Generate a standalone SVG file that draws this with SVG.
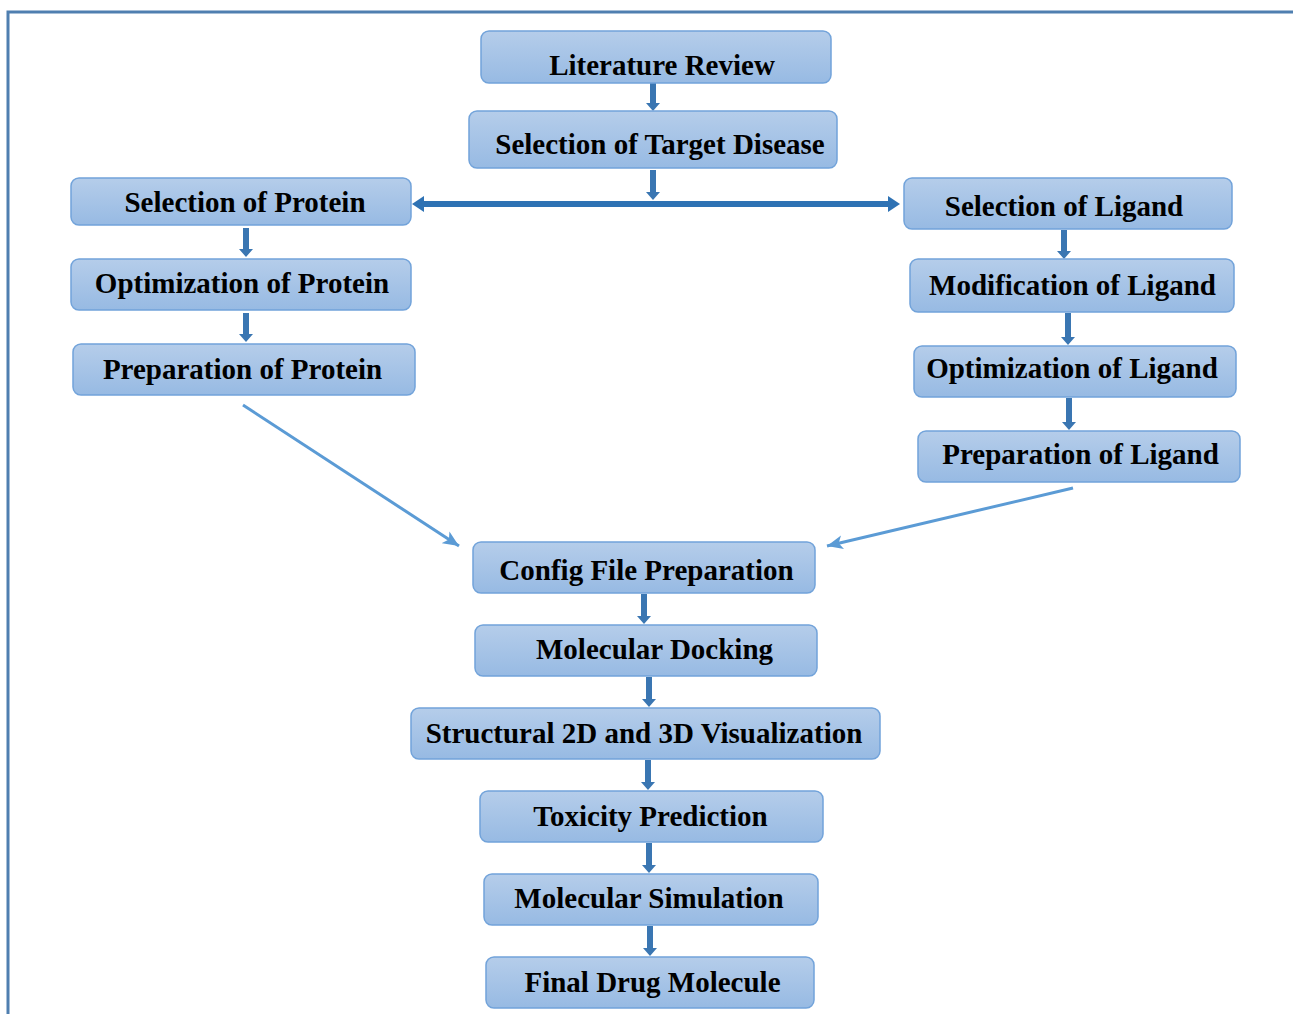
<svg xmlns="http://www.w3.org/2000/svg" width="1293" height="1014" viewBox="0 0 1293 1014">
<defs>
<linearGradient id="g" x1="0" y1="0" x2="0" y2="1">
<stop offset="0" stop-color="#b5cdea"/>
<stop offset="1" stop-color="#97bae3"/>
</linearGradient>
<marker id="thin" markerUnits="userSpaceOnUse" markerWidth="18" markerHeight="16" refX="16" refY="8" orient="auto">
<path d="M0,1 L16,8 L0,15 L4,8 z" fill="#5b9bd5"/>
</marker>
</defs>
<style>
.box{fill:url(#g);stroke:#72a3da;stroke-width:1.5}
.t{font-family:"Liberation Serif","Times New Roman",serif;font-weight:bold;font-size:29px;fill:#000;text-anchor:middle}
.a{fill:#3a76b2}
.d{stroke:#5b9bd5;stroke-width:3;fill:none;marker-end:url(#thin)}
</style>
<rect width="1293" height="1014" fill="#fff"/>
<path d="M8,1014 L8,12 L1293,12" fill="none" stroke="#4f7fb0" stroke-width="3"/>

<g id="connectors">
<path class="a" d="M650,83 h6 v20 h4 l-7,8 l-7,-8 h4 z"/>
<path class="a" d="M650,170 h6 v22 h4 l-7,8 l-7,-8 h4 z"/>
<path fill="#2e72b4" d="M412,204 l12,-8 v5 h464 v-5 l12,8 l-12,8 v-5 h-464 v5 z"/>
<path class="a" d="M243,228 h6 v21 h4 l-7,8 l-7,-8 h4 z"/>
<path class="a" d="M243,313 h6 v21 h4 l-7,8 l-7,-8 h4 z"/>
<path class="a" d="M1061,230 h6 v21 h4 l-7,8 l-7,-8 h4 z"/>
<path class="a" d="M1065,313 h6 v24 h4 l-7,8 l-7,-8 h4 z"/>
<path class="a" d="M1066,398 h6 v24 h4 l-7,8 l-7,-8 h4 z"/>
<line class="d" x1="243" y1="405" x2="459" y2="546"/>
<line class="d" x1="1073" y1="488" x2="827" y2="546"/>
<path class="a" d="M641,594 h6 v22 h4 l-7,8 l-7,-8 h4 z"/>
<path class="a" d="M646,677 h6 v22 h4 l-7,8 l-7,-8 h4 z"/>
<path class="a" d="M645,760 h6 v22 h4 l-7,8 l-7,-8 h4 z"/>
<path class="a" d="M646,843 h6 v22 h4 l-7,8 l-7,-8 h4 z"/>
<path class="a" d="M647,926 h6 v22 h4 l-7,8 l-7,-8 h4 z"/>
</g>

<g id="n1"><rect class="box" x="481" y="31" width="350" height="52" rx="8"/><text class="t" x="662" y="75">Literature Review</text></g>
<g id="n2"><rect class="box" x="469" y="111" width="368" height="57" rx="8"/><text class="t" x="660" y="154">Selection of Target Disease</text></g>
<g id="n3"><rect class="box" x="71" y="178" width="340" height="47" rx="8"/><text class="t" x="245" y="212">Selection of Protein</text></g>
<g id="n4"><rect class="box" x="71" y="259" width="340" height="51" rx="8"/><text class="t" x="242" y="293">Optimization of Protein</text></g>
<g id="n5"><rect class="box" x="73" y="344" width="342" height="51" rx="8"/><text class="t" x="242.5" y="379">Preparation of Protein</text></g>
<g id="n6"><rect class="box" x="904" y="178" width="328" height="51" rx="8"/><text class="t" x="1064" y="216">Selection of Ligand</text></g>
<g id="n7"><rect class="box" x="910" y="259" width="324" height="53" rx="8"/><text class="t" x="1072.5" y="295">Modification of Ligand</text></g>
<g id="n8"><rect class="box" x="914" y="346" width="322" height="51" rx="8"/><text class="t" x="1072" y="378">Optimization of Ligand</text></g>
<g id="n9"><rect class="box" x="918" y="431" width="322" height="51" rx="8"/><text class="t" x="1080.5" y="464">Preparation of Ligand</text></g>
<g id="n10"><rect class="box" x="473" y="542" width="342" height="51" rx="8"/><text class="t" x="646.5" y="580">Config File Preparation</text></g>
<g id="n11"><rect class="box" x="475" y="625" width="342" height="51" rx="8"/><text class="t" x="654.5" y="659">Molecular Docking</text></g>
<g id="n12"><rect class="box" x="411" y="708" width="469" height="51" rx="8"/><text class="t" x="644" y="743">Structural 2D and 3D Visualization</text></g>
<g id="n13"><rect class="box" x="480" y="791" width="343" height="51" rx="8"/><text class="t" x="650.5" y="826">Toxicity Prediction</text></g>
<g id="n14"><rect class="box" x="484" y="874" width="334" height="51" rx="8"/><text class="t" x="649" y="908">Molecular Simulation</text></g>
<g id="n15"><rect class="box" x="486" y="957" width="328" height="51" rx="8"/><text class="t" x="652.5" y="992">Final Drug Molecule</text></g>
</svg>
